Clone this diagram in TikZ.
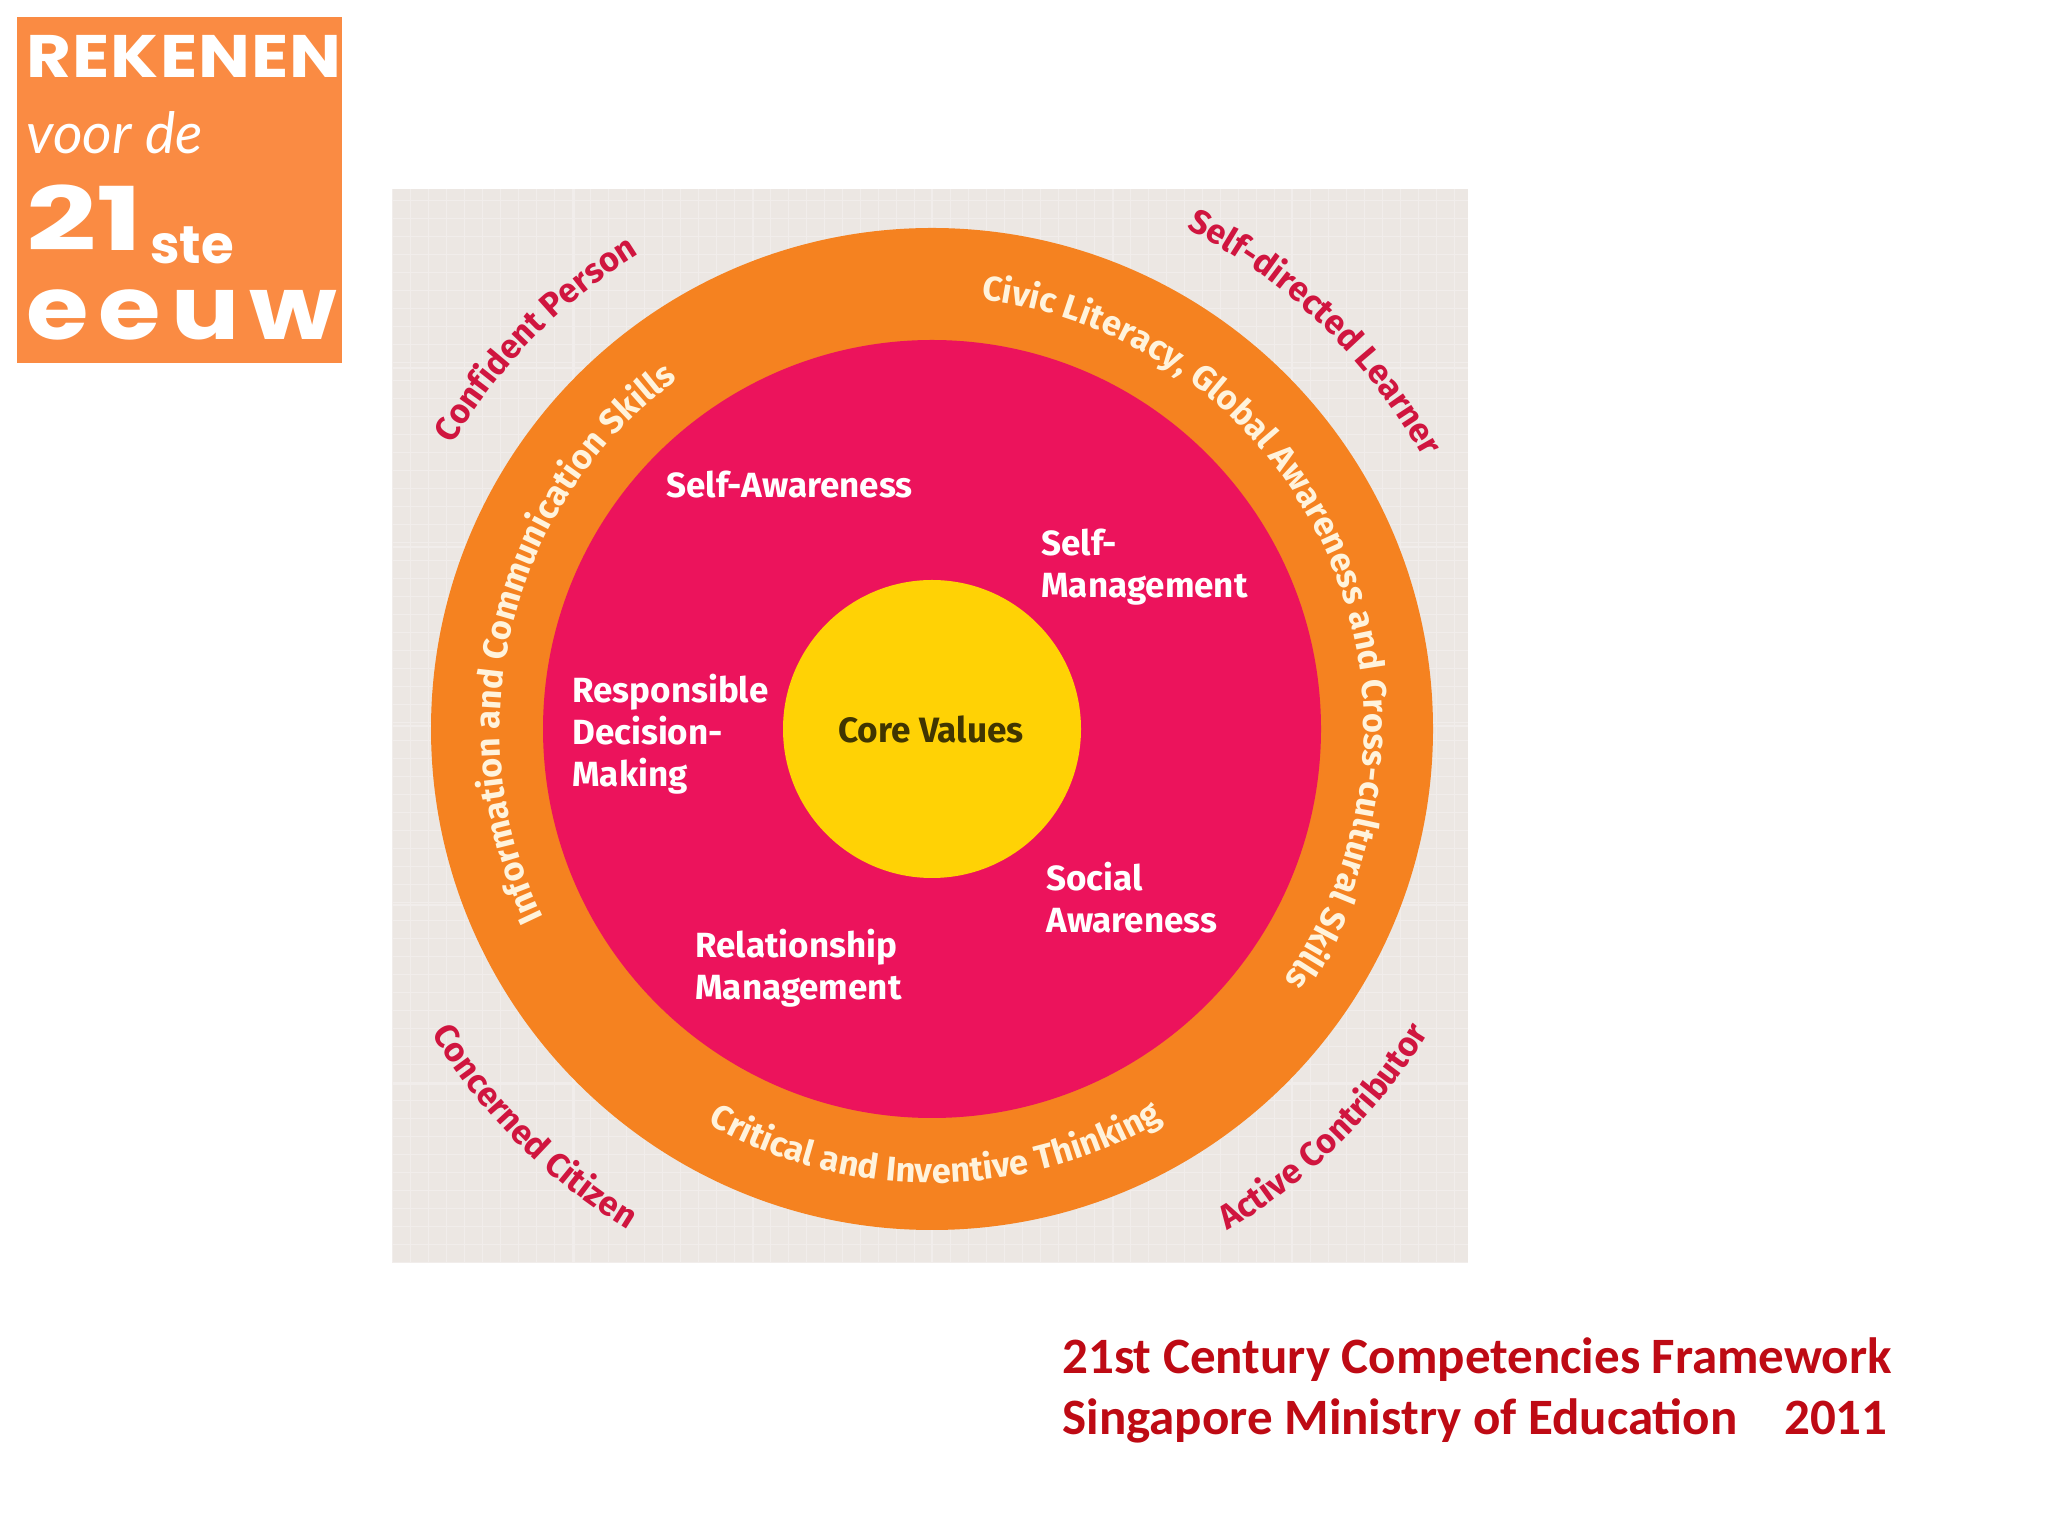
\documentclass[tikz,border=0pt]{standalone}
\usepackage{fontspec}
\usepackage{graphicx}
\usepackage{tikz}
\usetikzlibrary{decorations.text}
\newfontfamily\labfont{Fira Sans}
\newfontfamily\capfont{Carlito}
\newfontfamily\logofont{Poppins}
\newfontfamily\logothin{Lato}
\definecolor{paper}{HTML}{ECE7E3}
\definecolor{paperline}{HTML}{F1EDEB}
\definecolor{ringorange}{HTML}{F58220}
\definecolor{ringred}{HTML}{EC135C}
\definecolor{coreyellow}{HTML}{FFD205}
\definecolor{logoorange}{HTML}{FA8B43}
\definecolor{outerred}{HTML}{D0153F}
\definecolor{ringtext}{HTML}{FFF3DC}
\definecolor{capred}{HTML}{BE0A14}
\tikzset{
	innerlab/.style={anchor=west, align=left, text=white, font=\labfont\bfseries\fontsize{17.5}{21}\selectfont, inner sep=0pt},
	captionlab/.style={anchor=base west, text=capred, font=\capfont\bfseries\fontsize{25.5}{30}\selectfont, inner sep=0pt},
	logolab/.style={anchor=base west, text=white, inner sep=0pt}
}
\newcommand{\outerfont}{\labfont\bfseries\fontsize{17}{20}\selectfont\color{outerred}}
\newcommand{\ringfont}{\labfont\bfseries\fontsize{17.2}{20}\selectfont\color{ringtext}}
\newcommand{\arclab}[5]{\path[decorate, decoration={text along path, text align=center, text={|#1|#5}}]
		(#2:#4) arc[start angle=#2, end angle=#3, radius=#4];}

\begin{document}
\begin{tikzpicture}[x=0.5pt, y=0.5pt]
	\useasboundingbox (0,0) rectangle (2048,1536);

	\fill[logoorange] (17,1173) rectangle (342,1519);
	\node[logolab, font=\logofont\bfseries\fontsize{30}{30}\selectfont\addfontfeature{LetterSpace=1.6}] (rekenen) at (26,1458) {\scalebox{1.15}[1]{REKENEN}};
	\node[logolab, font=\logothin\itshape\fontsize{28.5}{30}\selectfont] (voorde) at (26,1382) {voor de};
	\node[logolab, font=\logofont\bfseries\fontsize{44}{44}\selectfont] (twentyone) at (26,1285) {\scalebox{1.4}[1]{21}};
	\node[logolab, font=\logofont\bfseries\fontsize{26.5}{26}\selectfont] (ste) at (150,1272) {ste};
	\node[logolab, font=\logofont\bfseries\fontsize{44}{44}\selectfont\addfontfeature{LetterSpace=10}] (eeuw) at (26,1196) {\scalebox{1.15}[1]{eeuw}};

	\fill[paper] (392,274) rectangle (1468,1347);
	\foreach \gx in {392,410,...,1468}
		\draw[paperline, line width=0.3pt] (\gx,274) -- (\gx,1347);
	\foreach \gy in {274,292,...,1347}
		\draw[paperline, line width=0.3pt] (392,\gy) -- (1468,\gy);
	\foreach \gx in {574,753,932,1113,1292}
		\draw[paperline, line width=1pt] (\gx,274) -- (\gx,1347);
	\foreach \gy in {452,631,810,989,1168}
		\draw[paperline, line width=1pt] (392,\gy) -- (1468,\gy);

	\begin{scope}[shift={(932,807)}]
		\fill[ringorange] (0,0) circle (501);
		\fill[ringred] (0,0) circle (389);
		\fill[coreyellow] (0,0) circle (149);

		\arclab{\outerfont}{158.5}{112.5}{558}{Confident Person}
		\arclab{\outerfont}{69}{23}{561}{Self-directed Learner}
		\arclab{\outerfont}{206}{244}{586}{Concerned Citizen}
		\arclab{\outerfont}{295}{334}{582}{Active Contributor}
		\arclab{\ringfont}{87}{-39}{432}{Civic Literacy, Global Awareness and Cross-cultural Skills}
		\arclab{\ringfont}{211}{121}{432}{Information and Communication Skills}
		\arclab{\ringfont}{236}{305}{454}{Critical and Inventive Thinking}
	\end{scope}

	\node[anchor=center, text=black!75!coreyellow, font=\labfont\bfseries\fontsize{17.6}{21}\selectfont, inner sep=0pt] (core) at (931,807) {Core Values};
	\node[innerlab] (selfaware) at (666,1051) {Self-Awareness};
	\node[innerlab] (selfman) at (1041,969) {Self-\\Management};
	\node[innerlab] (decision) at (572,802) {Responsible\\Decision-\\Making};
	\node[innerlab] (social) at (1046,638) {Social\\Awareness};
	\node[innerlab] (relation) at (695,568) {Relationship\\Management};

	\node[captionlab] (capone) at (1062,163) {21st Century Competencies Framework};
	\node[captionlab] (captwo) at (1062,102) {Singapore Ministry of Education\hspace{0.69em} 2011};
\end{tikzpicture}
\end{document}
